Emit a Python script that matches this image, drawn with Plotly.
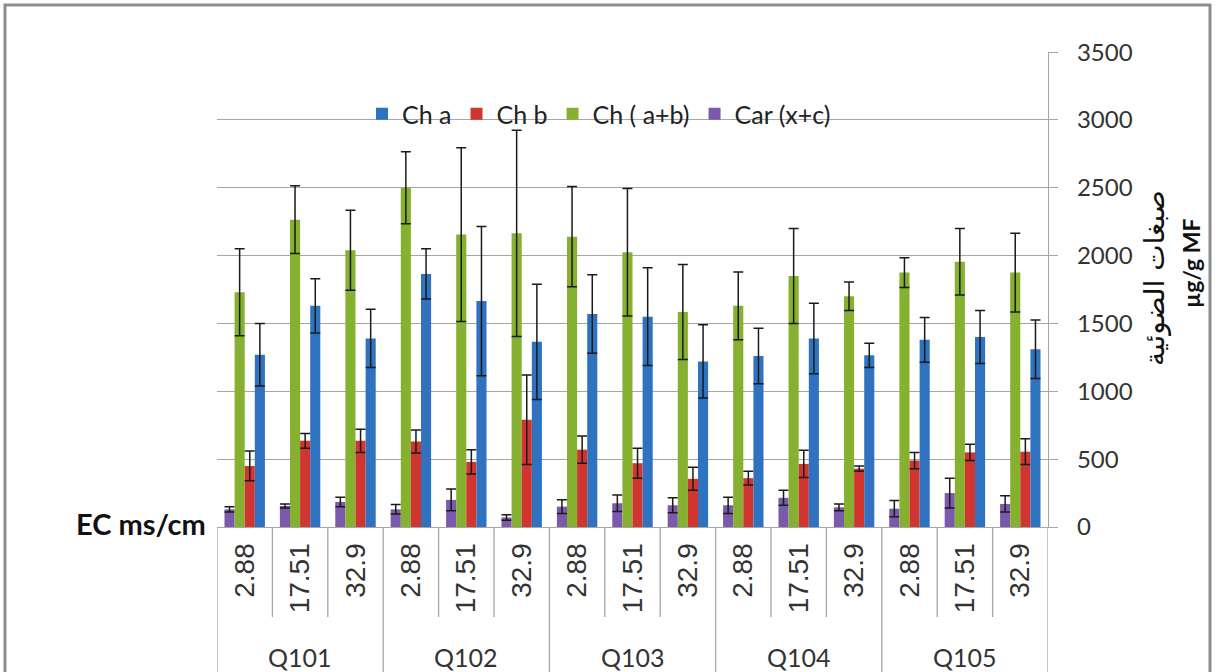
import plotly.graph_objects as go

groups = ["Q101", "Q102", "Q103", "Q104", "Q105"]
ec_levels = ["2.88", "17.51", "32.9"]

ch_a = [1270, 1630, 1390, 1865, 1665, 1365, 1570, 1550, 1220, 1260, 1390, 1265, 1380, 1400, 1310]
ch_a_err = [230, 200, 215, 185, 550, 425, 290, 360, 270, 205, 260, 90, 165, 195, 215]
ch_b = [450, 635, 635, 630, 480, 790, 570, 470, 355, 360, 465, 430, 490, 550, 555]
ch_b_err = [110, 55, 85, 85, 90, 330, 100, 110, 85, 50, 100, 20, 60, 60, 95]
ch_ab = [1730, 2265, 2040, 2500, 2155, 2165, 2140, 2025, 1585, 1630, 1850, 1700, 1875, 1955, 1875]
ch_ab_err = [320, 250, 295, 265, 640, 760, 370, 470, 350, 250, 350, 105, 110, 245, 290]
car = [130, 155, 185, 130, 200, 70, 150, 175, 160, 160, 215, 145, 135, 250, 170]
car_err = [20, 15, 35, 35, 80, 20, 50, 60, 55, 60, 55, 25, 60, 110, 60]

x_inner = [e for _ in groups for e in ec_levels]
xpos = list(range(len(x_inner)))
n_per = len(ec_levels)

FONT = "Lato"
W, H = 1216, 672
ML, MR, MT, MB = 217, 168, 52, 145

# draw order (left to right in each group): Car, Ch(a+b), Ch b, Ch a
series = [
    ("Car (x+c)", car, car_err, "#7B5AAE", 4),
    ("Ch ( a+b)", ch_ab, ch_ab_err, "#86B030", 3),
    ("Ch b", ch_b, ch_b_err, "#D0352F", 2),
    ("Ch a", ch_a, ch_a_err, "#2F73C0", 1),
]

fig = go.Figure()
for name, vals, errs, col, rank in series:
    fig.add_trace(go.Bar(
        name=name, x=xpos, y=vals,
        marker=dict(color=col, line=dict(width=0)),
        error_y=dict(type="data", array=errs, visible=True, color="#1a1a1a",
                     thickness=1.5, width=5),
        legendrank=rank,
    ))

pw = W - ML - MR
ph = H - MT - MB
def px(x):
    return (x - ML) / pw
def py(y):
    return (H - MB - y) / ph

GRID = "#A6A6A6"
fig.update_layout(
    width=W, height=H,
    margin=dict(l=ML, r=MR, t=MT, b=MB, autoexpand=False),
    paper_bgcolor="white", plot_bgcolor="white",
    font=dict(family=FONT, size=20, color="#333333"),
    barmode="group", bargap=0.27, bargroupgap=0,
    showlegend=True,
    legend=dict(orientation="h", x=px(362), y=py(114), xanchor="left", yanchor="middle",
                bgcolor="rgba(0,0,0,0)", font=dict(size=25, color="#222222"),
                itemwidth=30, traceorder="normal"),
    yaxis=dict(side="right", range=[0, 3501], tickvals=[0, 500, 1000, 1500, 2000, 2500, 3000, 3500],
               showgrid=True, automargin=False,
               gridcolor=GRID, gridwidth=1.2, showline=True, linecolor=GRID,
               linewidth=1.2, ticks="outside", ticklen=9, tickcolor=GRID,
               ticklabelstandoff=14,
               zeroline=False, tickfont=dict(size=24, color="#333333")),
    xaxis=dict(range=[-0.5, len(xpos) - 0.5], tickvals=xpos, ticktext=x_inner,
               tickangle=-90, showline=True, linecolor=GRID, automargin=False,
               linewidth=1.2, ticks="outside", ticklen=4, tickcolor="rgba(0,0,0,0)",
               tickfont=dict(family="Liberation Sans", size=28, color="#333333"),
               showgrid=False, zeroline=False),
)

# inner category boundaries (table lines below the axis)
for k in range(len(xpos) + 1):
    b = k - 0.5
    is_group = (k % n_per == 0)
    fig.add_shape(type="line", xref="x", yref="paper", x0=b, x1=b,
                  y0=0, y1=py(700) if is_group else py(617),
                  line=dict(color=GRID, width=1.3))

# group labels
for gi, g in enumerate(groups):
    fig.add_annotation(text=g, xref="x", yref="paper",
                       x=gi * n_per + (n_per - 1) / 2, y=py(657),
                       xanchor="center", yanchor="middle", showarrow=False,
                       font=dict(size=25, color="#333333"))

fig.add_annotation(text="<b>EC ms/cm</b>", xref="paper", yref="paper",
                   x=px(208), y=py(523), xanchor="right", yanchor="middle",
                   showarrow=False, font=dict(size=29, color="#111111"))

# right-side axis title
fig.add_annotation(text="صبغات الضوئية", xref="paper", yref="paper",
                   x=px(1154), y=py(278), xanchor="center", yanchor="middle",
                   textangle=-90, showarrow=False,
                   font=dict(family="DejaVu Sans", size=28, color="#111111"))
fig.add_annotation(text="<b>µg/g MF</b>", xref="paper", yref="paper",
                   x=px(1191), y=py(263), xanchor="center", yanchor="middle",
                   textangle=-90, showarrow=False,
                   font=dict(size=23, color="#111111"))

# outer frame
fig.add_shape(type="rect", xref="paper", yref="paper",
              x0=px(5), x1=px(1210), y0=py(720), y1=py(5),
              line=dict(color="#8C8C8C", width=3), fillcolor="rgba(0,0,0,0)", layer="below")

fig.write_html("out.html", config={"displayModeBar": False},
               post_script="document.body.style.margin='0';document.body.style.overflow='hidden';")
